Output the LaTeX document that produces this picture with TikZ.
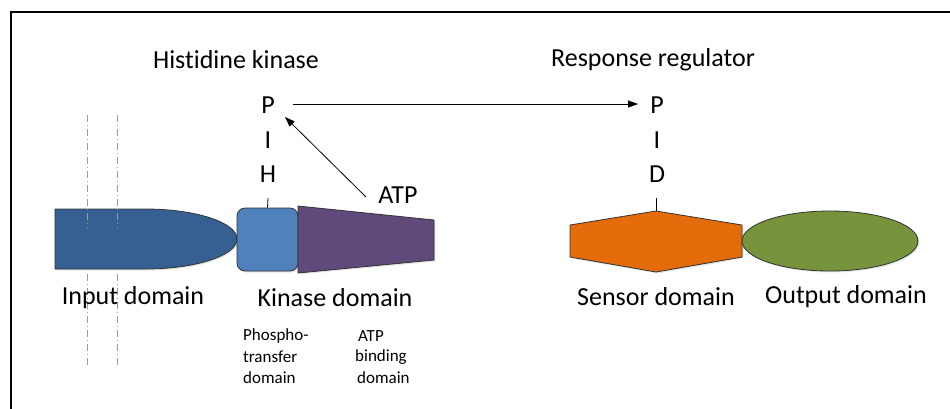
\documentclass[tikz,border=0pt]{standalone}
\usepackage{fontspec}
\setmainfont{Carlito}[Ligatures=NoCommon]
\usetikzlibrary{arrows.meta,shadows,shapes.geometric}
\definecolor{inblue}{HTML}{366092}
\definecolor{kblue}{HTML}{4F81BD}
\definecolor{kpurple}{HTML}{604A7B}
\definecolor{sorange}{HTML}{E46C0A}
\definecolor{ogreen}{HTML}{77933C}
\definecolor{memgray}{HTML}{9A9A9A}
\tikzset{
  lbl/.style={inner sep=0pt, font=\fontsize{26}{30}\selectfont},
  small/.style={inner sep=0pt, anchor=west, font=\fontsize{17}{20}\selectfont},
  shp/.style={draw=black!80, line width=0.8pt, drop shadow={opacity=0.2, shadow xshift=1.5pt, shadow yshift=-1.5pt}},
  arr/.style={line width=0.8pt, -{Triangle[length=10pt,width=7pt]}},
  tick/.style={line width=0.8pt},
  mem/.style={memgray, line width=1pt, dash pattern=on 7pt off 3pt on 1pt off 3pt}
}
\begin{document}
\begin{tikzpicture}[x=1pt,y=-1pt]
\useasboundingbox (0,0) rectangle (950,408);
% frame
\draw[line width=2pt] (960,12) -- (11,12) -- (11,420);
% titles
\node[lbl] (hk) at (236,60) {Histidine kinase};
\node[lbl] (rr) at (653,60) {Response regulator};
% input domain
\path[shp, fill=inblue] (55,209) -- (145,209) arc[start angle=-90, end angle=90, x radius=92, y radius=30] -- (55,269) -- cycle;
% membrane lines
\draw[mem] (87,115) -- (87,228);
\draw[mem] (117,115) -- (117,228);
\draw[mem] (87,274) -- (87,367);
\draw[mem] (117,274) -- (117,367);
% kinase domain
\node[shp, fill=kblue, rounded corners=8pt, minimum width=61pt, minimum height=63pt, inner sep=0pt] (kin) at (267.5,239.5) {};
\path[shp, fill=kpurple] (298,206) -- (434,220) -- (434,260) -- (298,273) -- cycle;
% sensor domain
\path[shp, fill=sorange] (570,225) -- (656,211) -- (742,225) -- (742,257) -- (656,272) -- (570,257) -- cycle;
\coordinate (sens) at (656,211);
% output domain
\node[shp, ellipse, fill=ogreen, minimum width=176pt, minimum height=60pt, inner sep=0pt] (out) at (830,241) {};
% P-I-H
\node[lbl] (P1) at (268,105) {P};
\node[lbl] (I1) at (268,140) {I};
\node[lbl] (H1) at (268,174) {H};
\coordinate (ht) at (268,198);
\draw[tick] (ht) -- (kin.north);
% P-I-D
\node[lbl] (P2) at (657,105) {P};
\node[lbl] (I2) at (657,140) {I};
\node[lbl] (D2) at (657,174) {D};
\coordinate (dt) at (656,198);
\draw[tick] (dt) -- (sens);
% ATP
\node[lbl] (ATP) at (398,195) {ATP};
\coordinate (atps) at (366,197);
\coordinate (p1e) at (285,117);
\draw[arr] (atps) -- (p1e);
\coordinate (pa) at (293,104);
\coordinate (pb) at (638,104);
\draw[arr] (pa) -- (pb);
% labels
\node[lbl] (inl) at (133,298) {Input domain};
\node[lbl] (kinl) at (335,298) {Kinase domain};
\node[lbl] (senl) at (656,297) {Sensor domain};
\node[lbl] (outl) at (846,297) {Output domain};
\node[small] (ph1) at (243,336) {Phospho-};
\node[small] (ph2) at (243,357) {transfer};
\node[small] (ph3) at (243,378) {domain};
\node[small] (ab1) at (358,336) {ATP};
\node[small] (ab2) at (355,357) {binding};
\node[small] (ab3) at (357,378) {domain};
\end{tikzpicture}
\end{document}
